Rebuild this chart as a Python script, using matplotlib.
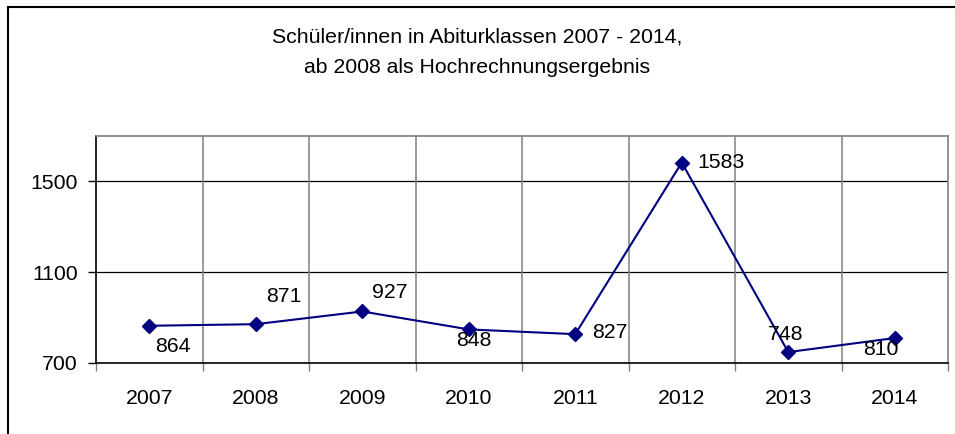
"""Schüler/innen in Abiturklassen 2007 - 2014 (line chart with point labels)."""

import matplotlib
matplotlib.use("Agg")
import matplotlib.pyplot as plt
from matplotlib.patches import Rectangle

years = ["2007", "2008", "2009", "2010", "2011", "2012", "2013", "2014"]
students = [864, 871, 927, 848, 827, 1583, 748, 810]

title_text = "Schüler/innen in Abiturklassen 2007 - 2014,\nab 2008 als Hochrechnungsergebnis"

# label offsets in points (dx, dy)
label_offsets = [(17, -15), (20, 20), (20, 14), (4, -8), (25, 1), (28, 0), (-2, 13), (-10, -8)]

plt.rcParams["font.family"] = ["Liberation Sans", "DejaVu Sans"]
navy = "#000080"
grey = "#808080"
fs = 15.3

fig = plt.figure(figsize=(9.55, 4.34), dpi=100)
ax = fig.add_axes([96 / 955, 1 - 363 / 434, 852 / 955, 227 / 434])

# outer chart frame
fig.patches.append(Rectangle((8 / 955, -0.05), 1.0, 1 - 7 / 434 + 0.05,
                             transform=fig.transFigure, fill=False,
                             edgecolor="black", linewidth=1.5))

x = list(range(len(years)))
ax.plot(x, students, color=navy, linewidth=1.5, marker="D", markersize=7,
        markerfacecolor=navy, markeredgecolor=navy, zorder=3)

for xi, val, (dx, dy) in zip(x, students, label_offsets):
    ax.annotate(str(val), (xi, val), xytext=(dx, dy), textcoords="offset points",
                ha="center", va="center", fontsize=fs, color="black", zorder=4)

ax.set_xlim(-0.5, len(years) - 0.5)
ax.set_ylim(700, 1700)
ax.set_yticks([700, 1100, 1500])
ax.set_xticks(x)
ax.set_xticklabels(years)
ax.set_xticks([i - 0.5 for i in range(len(years) + 1)], minor=True)

for y in (1100, 1500):
    ax.axhline(y, color="black", linewidth=0.9, zorder=1)
for xb in range(1, len(years)):
    ax.axvline(xb - 0.5, color=grey, linewidth=1.1, zorder=1)

ax.tick_params(axis="x", which="major", length=0, pad=19, labelsize=fs)
ax.tick_params(axis="x", which="minor", length=6, width=1, color=grey, direction="out")
ax.tick_params(axis="y", length=6, width=1, direction="out", pad=7, labelsize=fs)

ax.spines["left"].set_color("black")
ax.spines["bottom"].set_color("black")
ax.spines["top"].set_color(grey)
ax.spines["right"].set_color(grey)
for s in ax.spines.values():
    s.set_linewidth(1.2)

fig.text(0.5, 1 - 52 / 434, title_text, ha="center", va="center",
         fontsize=fs, linespacing=1.75)

fig.savefig("out.png", dpi=100)
